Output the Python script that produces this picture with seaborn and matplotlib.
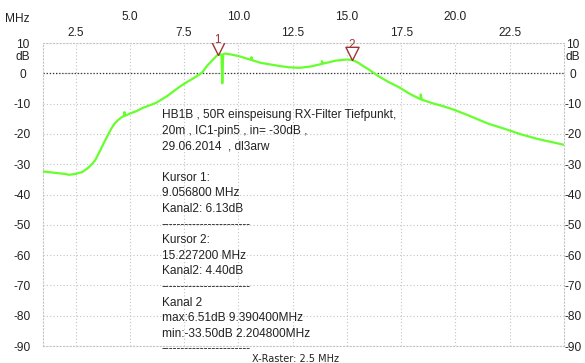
import matplotlib
matplotlib.use("Agg")
import matplotlib.pyplot as plt
import matplotlib.transforms as mtransforms
import seaborn as sns
import pandas as pd

# Measured response, channel 2 (frequency in MHz, level in dB)
freq_mhz = [1.0, 1.5, 2.0, 2.2, 2.5, 2.8, 3.05, 3.25, 3.4, 3.6, 3.8, 4.0, 4.15,
            4.3, 4.45, 4.6, 4.75, 4.75, 4.78, 5.0, 5.3, 5.6, 5.9, 6.2, 6.7, 7.3,
            7.7, 8.05, 8.34, 8.55, 8.8, 9.05, 9.22, 9.26, 9.3, 9.39, 9.6, 10.0,
            10.6, 10.6, 10.65, 11.0, 11.4, 11.9, 12.3, 12.8, 13.3, 13.85, 13.85,
            13.9, 14.5, 15.0, 15.23, 15.5, 15.7, 16.0, 16.4, 16.9, 17.4, 17.9,
            18.4, 18.4, 18.45, 19.0, 19.5, 20.0, 20.7, 21.5, 22.3, 23.0, 23.8,
            24.5, 25.0]
level_db = [-32.4, -32.8, -33.2, -33.5, -33.2, -32.6, -31.4, -30.0, -28.7,
            -26.0, -23.0, -20.3, -18.2, -16.6, -15.5, -14.6, -14.0, -12.8,
            -14.0, -13.3, -12.5, -11.4, -10.6, -9.8, -7.6, -4.4, -2.6, -1.1,
            0.3, 2.4, 4.3, 6.13, 6.2, -3.3, 6.3, 6.51, 6.3, 5.7, 4.4, 5.3, 4.3,
            3.5, 3.0, 2.4, 2.0, 1.8, 2.2, 3.1, 4.0, 3.2, 4.2, 4.55, 4.40, 3.6,
            2.6, 1.3, -0.7, -2.8, -4.6, -6.8, -8.6, -7.0, -8.7, -10.0, -11.0,
            -12.2, -14.2, -16.6, -18.4, -20.1, -21.7, -22.8, -23.6]

# Cursor readings
cursor_names = ["1", "2"]
cursor_mhz = [9.0568, 15.2272]
cursor_db = [6.13, 4.40]

x_major = [5.0, 10.0, 15.0, 20.0]
x_minor = [2.5, 7.5, 12.5, 17.5, 22.5]
y_ticks = [10, 0, -10, -20, -30, -40, -50, -60, -70, -80, -90]

SEP = "-" * 23
info_lines = [
    "HB1B , 50R einspeisung RX-Filter Tiefpunkt,",
    "20m , IC1-pin5 , in= -30dB ,",
    "29.06.2014  , dl3arw",
    "",
    "Kursor 1:",
    "9.056800 MHz",
    "Kanal2: 6.13dB",
    SEP,
    "Kursor 2:",
    "15.227200 MHz",
    "Kanal2: 4.40dB",
    SEP,
    "Kanal 2",
    "max:6.51dB 9.390400MHz",
    "min:-33.50dB 2.204800MHz",
    SEP,
]

sns.set_style("white")
plt.rcParams["font.family"] = ["Liberation Sans", "DejaVu Sans"]

TEXT = "#222222"
GRID = "#c4c4c4"
TRACE = "#66ff2e"
MARK = "#a03434"
FS = 8.6

W, H = 585, 363
LEFT, RIGHT, TOP, BOTTOM = 43, 564, 43, 346

fig = plt.figure(figsize=(W / 100, H / 100), dpi=100)
ax = fig.add_axes([LEFT / W, 1 - BOTTOM / H, (RIGHT - LEFT) / W,
                   (BOTTOM - TOP) / H])

df = pd.DataFrame({"MHz": freq_mhz, "dB": level_db})
sns.lineplot(data=df, x="MHz", y="dB", sort=False, estimator=None,
             color=TRACE, lw=1.6, ax=ax, zorder=3)

ax.set_xlim(1.0, 25.0)
ax.set_ylim(-90, 10)
ax.set_xlabel("")
ax.set_ylabel("")

# frequency scale on top, two staggered rows
ax.xaxis.tick_top()
ax.set_xticks(x_major)
ax.set_xticklabels([f"{v:.1f}" for v in x_major])
ax.set_xticks(x_minor, minor=True)
ax.set_xticklabels([f"{v:.1f}" for v in x_minor], minor=True)
ax.tick_params(axis="x", which="major", length=0, pad=14.5, labelsize=FS,
               labelcolor=TEXT)
ax.tick_params(axis="x", which="minor", length=0, pad=3, labelsize=FS,
               labelcolor=TEXT)

# level scale, left side
ax.set_yticks(y_ticks)
ax.set_yticklabels([str(v) for v in y_ticks])
ax.tick_params(axis="y", which="major", length=0, labelsize=FS,
               labelcolor=TEXT, pad=14.8)
for t in ax.yaxis.get_major_ticks():
    t.label1.set_ha("center")

# level scale, right side
ax_r = ax.twinx()
ax_r.set_ylim(ax.get_ylim())
ax_r.set_yticks(y_ticks)
ax_r.set_yticklabels([str(v) for v in y_ticks])
ax_r.tick_params(axis="y", which="major", length=0, labelsize=FS,
                 labelcolor=TEXT, pad=6.5)
for t in ax_r.yaxis.get_major_ticks():
    t.label2.set_ha("center")
for sp in ax_r.spines.values():
    sp.set_visible(False)
ax_r.grid(False)

# grid
ax.grid(True, which="both", axis="x", color=GRID, ls=(0, (1, 2)), lw=0.8)
ax.grid(True, which="major", axis="y", color=GRID, ls=(0, (1, 2)), lw=0.8)
ax.axhline(0, color="#333333", ls=(0, (1, 1.5)), lw=0.9, zorder=2)
for sp in ax.spines.values():
    sp.set_color(GRID)
    sp.set_linestyle((0, (1, 2)))
    sp.set_linewidth(0.8)

# unit labels
blend = mtransforms.blended_transform_factory(ax.transAxes, ax.transData)
ax.text(-0.039, 5.3, "dB", transform=blend, ha="center", va="center",
        fontsize=FS, color=TEXT)
ax.text(1.017, 5.3, "dB", transform=blend, ha="center", va="center",
        fontsize=FS, color=TEXT)
fig.text(17 / W, 1 - 19 / H, "MHz", ha="center", va="center",
         fontsize=FS, color=TEXT)

# cursor markers: hollow triangles with the tip on the trace
tip_down = [(0, 0), (-0.5, 1), (0.5, 1), (0, 0)]
for name, fx, fy in zip(cursor_names, cursor_mhz, cursor_db):
    ax.plot([fx], [fy], marker=tip_down, ms=19, mfc="none", mec=MARK,
            mew=1.0, ls="none", zorder=4)
    ax.annotate(name, (fx, fy), xytext=(0, 15), textcoords="offset pixels",
                ha="center", va="center", fontsize=8.4, color=MARK)

# measurement notes, one text per line
first_line_px, pitch_px = 115.5, 15.6
for i, line in enumerate(info_lines):
    if not line:
        continue
    y_px = first_line_px + pitch_px * i
    fig.text(162 / W, 1 - y_px / H, line, ha="left", va="center",
             fontsize=FS, color=TEXT)

fig.text(295 / W, 1 - 358.5 / H, "X-Raster: 2.5 MHz", ha="center",
         va="center", fontsize=7.0, color=TEXT, family=["DejaVu Sans"])

fig.savefig("out.png", dpi=100)
